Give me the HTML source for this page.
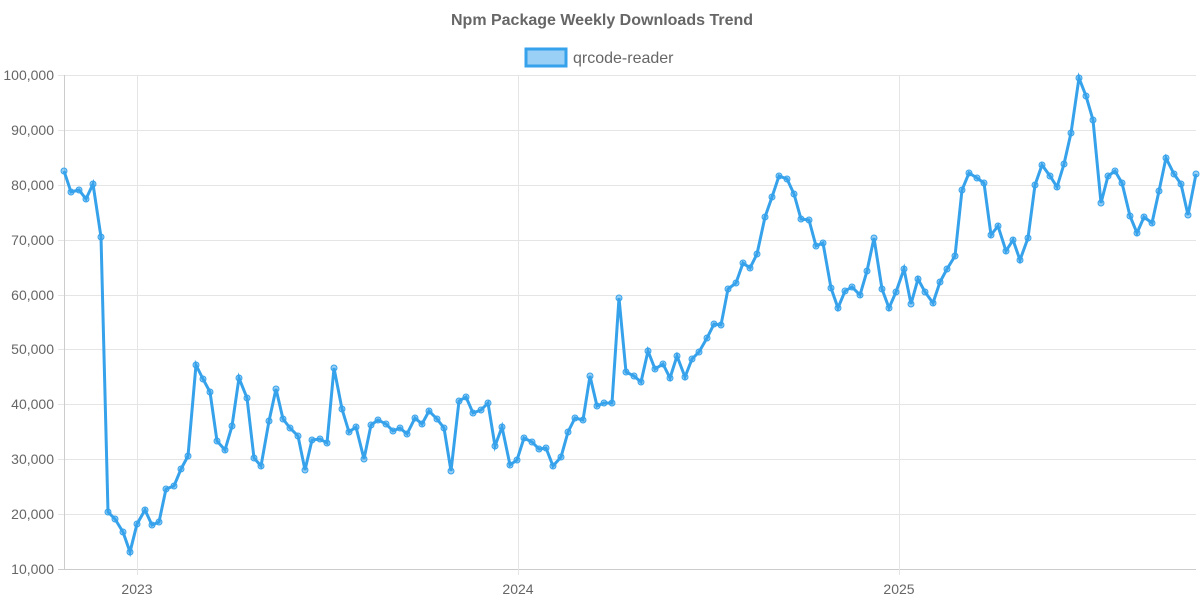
<!DOCTYPE html>
<html><head><meta charset="utf-8"><style>
html,body{margin:0;padding:0;background:#fff;}
svg{display:block;font-family:"Liberation Sans",sans-serif;}
</style></head><body>
<svg width="1200" height="600" viewBox="0 0 1200 600">
<text x="602" y="25" text-anchor="middle" font-size="16" font-weight="bold" fill="#666">Npm Package Weekly Downloads Trend</text>
<rect x="526" y="49" width="40" height="17" fill="rgba(54,162,235,0.5)" stroke="#36a2eb" stroke-width="3"/>
<text x="573" y="63" font-size="16" fill="#666">qrcode-reader</text>
<g stroke="#e5e5e5" stroke-width="1">
<line x1="58" y1="75.5" x2="1196" y2="75.5"/>
<line x1="58" y1="130.5" x2="1196" y2="130.5"/>
<line x1="58" y1="185.5" x2="1196" y2="185.5"/>
<line x1="58" y1="240.5" x2="1196" y2="240.5"/>
<line x1="58" y1="295.5" x2="1196" y2="295.5"/>
<line x1="58" y1="349.5" x2="1196" y2="349.5"/>
<line x1="58" y1="404.5" x2="1196" y2="404.5"/>
<line x1="58" y1="459.5" x2="1196" y2="459.5"/>
<line x1="58" y1="514.5" x2="1196" y2="514.5"/>
<line x1="58" y1="569.5" x2="1196" y2="569.5" stroke="#ccc"/>
<line x1="64.5" y1="75" x2="64.5" y2="569" stroke="#ccc"/>
<line x1="137.5" y1="75" x2="137.5" y2="575"/>
<line x1="518.5" y1="75" x2="518.5" y2="575"/>
<line x1="899.5" y1="75" x2="899.5" y2="575"/>
</g>
<g font-size="14" fill="#666" text-anchor="end">
<text x="54" y="80">100,000</text>
<text x="54" y="135">90,000</text>
<text x="54" y="190">80,000</text>
<text x="54" y="245">70,000</text>
<text x="54" y="300">60,000</text>
<text x="54" y="354">50,000</text>
<text x="54" y="409">40,000</text>
<text x="54" y="464">30,000</text>
<text x="54" y="519">20,000</text>
<text x="54" y="574">10,000</text>
</g>
<g font-size="14" fill="#666" text-anchor="middle">
<text x="137" y="594">2023</text>
<text x="518" y="594">2024</text>
<text x="899" y="594">2025</text>
</g>
<g id="s"></g>
</svg>
<script>
var d=[[64,171],[71,192],[79,190],[86,199],[93,184],[101,237],[108,512],[115,519],[123,532],[130,552],[137,524],[145,510],[152,525],[159,522],[166,489],[174,486],[181,469],[188,456],[196,365],[203,379],[210,392],[217,441],[225,450],[232,426],[239,378],[247,398],[254,458],[261,466],[269,421],[276,389],[283,419],[290,428],[298,436],[305,470],[312,440],[320,439],[327,443],[334,368],[342,409],[349,432],[356,427],[364,459],[371,425],[378,420],[386,424],[393,431],[400,428],[407,434],[415,418],[422,424],[429,411],[437,419],[444,428],[451,471],[459,401],[466,397],[473,413],[481,410],[488,403],[495,446],[502,427],[510,465],[517,460],[524,438],[532,442],[539,449],[546,448],[553,466],[561,457],[568,432],[575,418],[583,420],[590,376],[597,406],[604,403],[612,403],[619,298],[626,372],[634,376],[641,382],[648,351],[655,369],[663,364],[670,378],[677,356],[685,377],[692,359],[699,352],[707,338],[714,324],[721,325],[728,289],[736,283],[743,263],[750,268],[757,254],[765,217],[772,197],[779,176],[787,179],[794,194],[801,219],[809,220],[816,246],[823,243],[831,288],[838,308],[845,291],[852,287],[860,295],[867,271],[874,238],[882,289],[889,308],[896,292],[904,269],[911,304],[918,279],[925,292],[933,303],[940,282],[947,269],[955,256],[962,190],[969,173],[977,178],[984,183],[991,235],[998,226],[1006,251],[1013,240],[1020,260],[1028,238],[1035,185],[1042,165],[1050,176],[1057,187],[1064,164],[1071,133],[1079,78],[1086,96],[1093,120],[1101,203],[1108,176],[1115,171],[1122,183],[1130,216],[1137,233],[1144,217],[1152,223],[1159,191],[1166,158],[1174,174],[1181,184],[1188,215],[1196,174]];
var ns="http://www.w3.org/2000/svg",g=document.getElementById("s");
var p=document.createElementNS(ns,"polyline");
p.setAttribute("points",d.map(function(a){return a.join(",")}).join(" "));
p.setAttribute("fill","none");p.setAttribute("stroke","#36a2eb");p.setAttribute("stroke-width","3");p.setAttribute("stroke-linejoin","miter");
g.appendChild(p);
d.forEach(function(a){var c=document.createElementNS(ns,"circle");c.setAttribute("cx",a[0]);c.setAttribute("cy",a[1]);c.setAttribute("r","3");c.setAttribute("fill","rgba(54,162,235,0.5)");c.setAttribute("stroke","#36a2eb");c.setAttribute("stroke-width","1");g.appendChild(c);});
</script>
</body></html>
